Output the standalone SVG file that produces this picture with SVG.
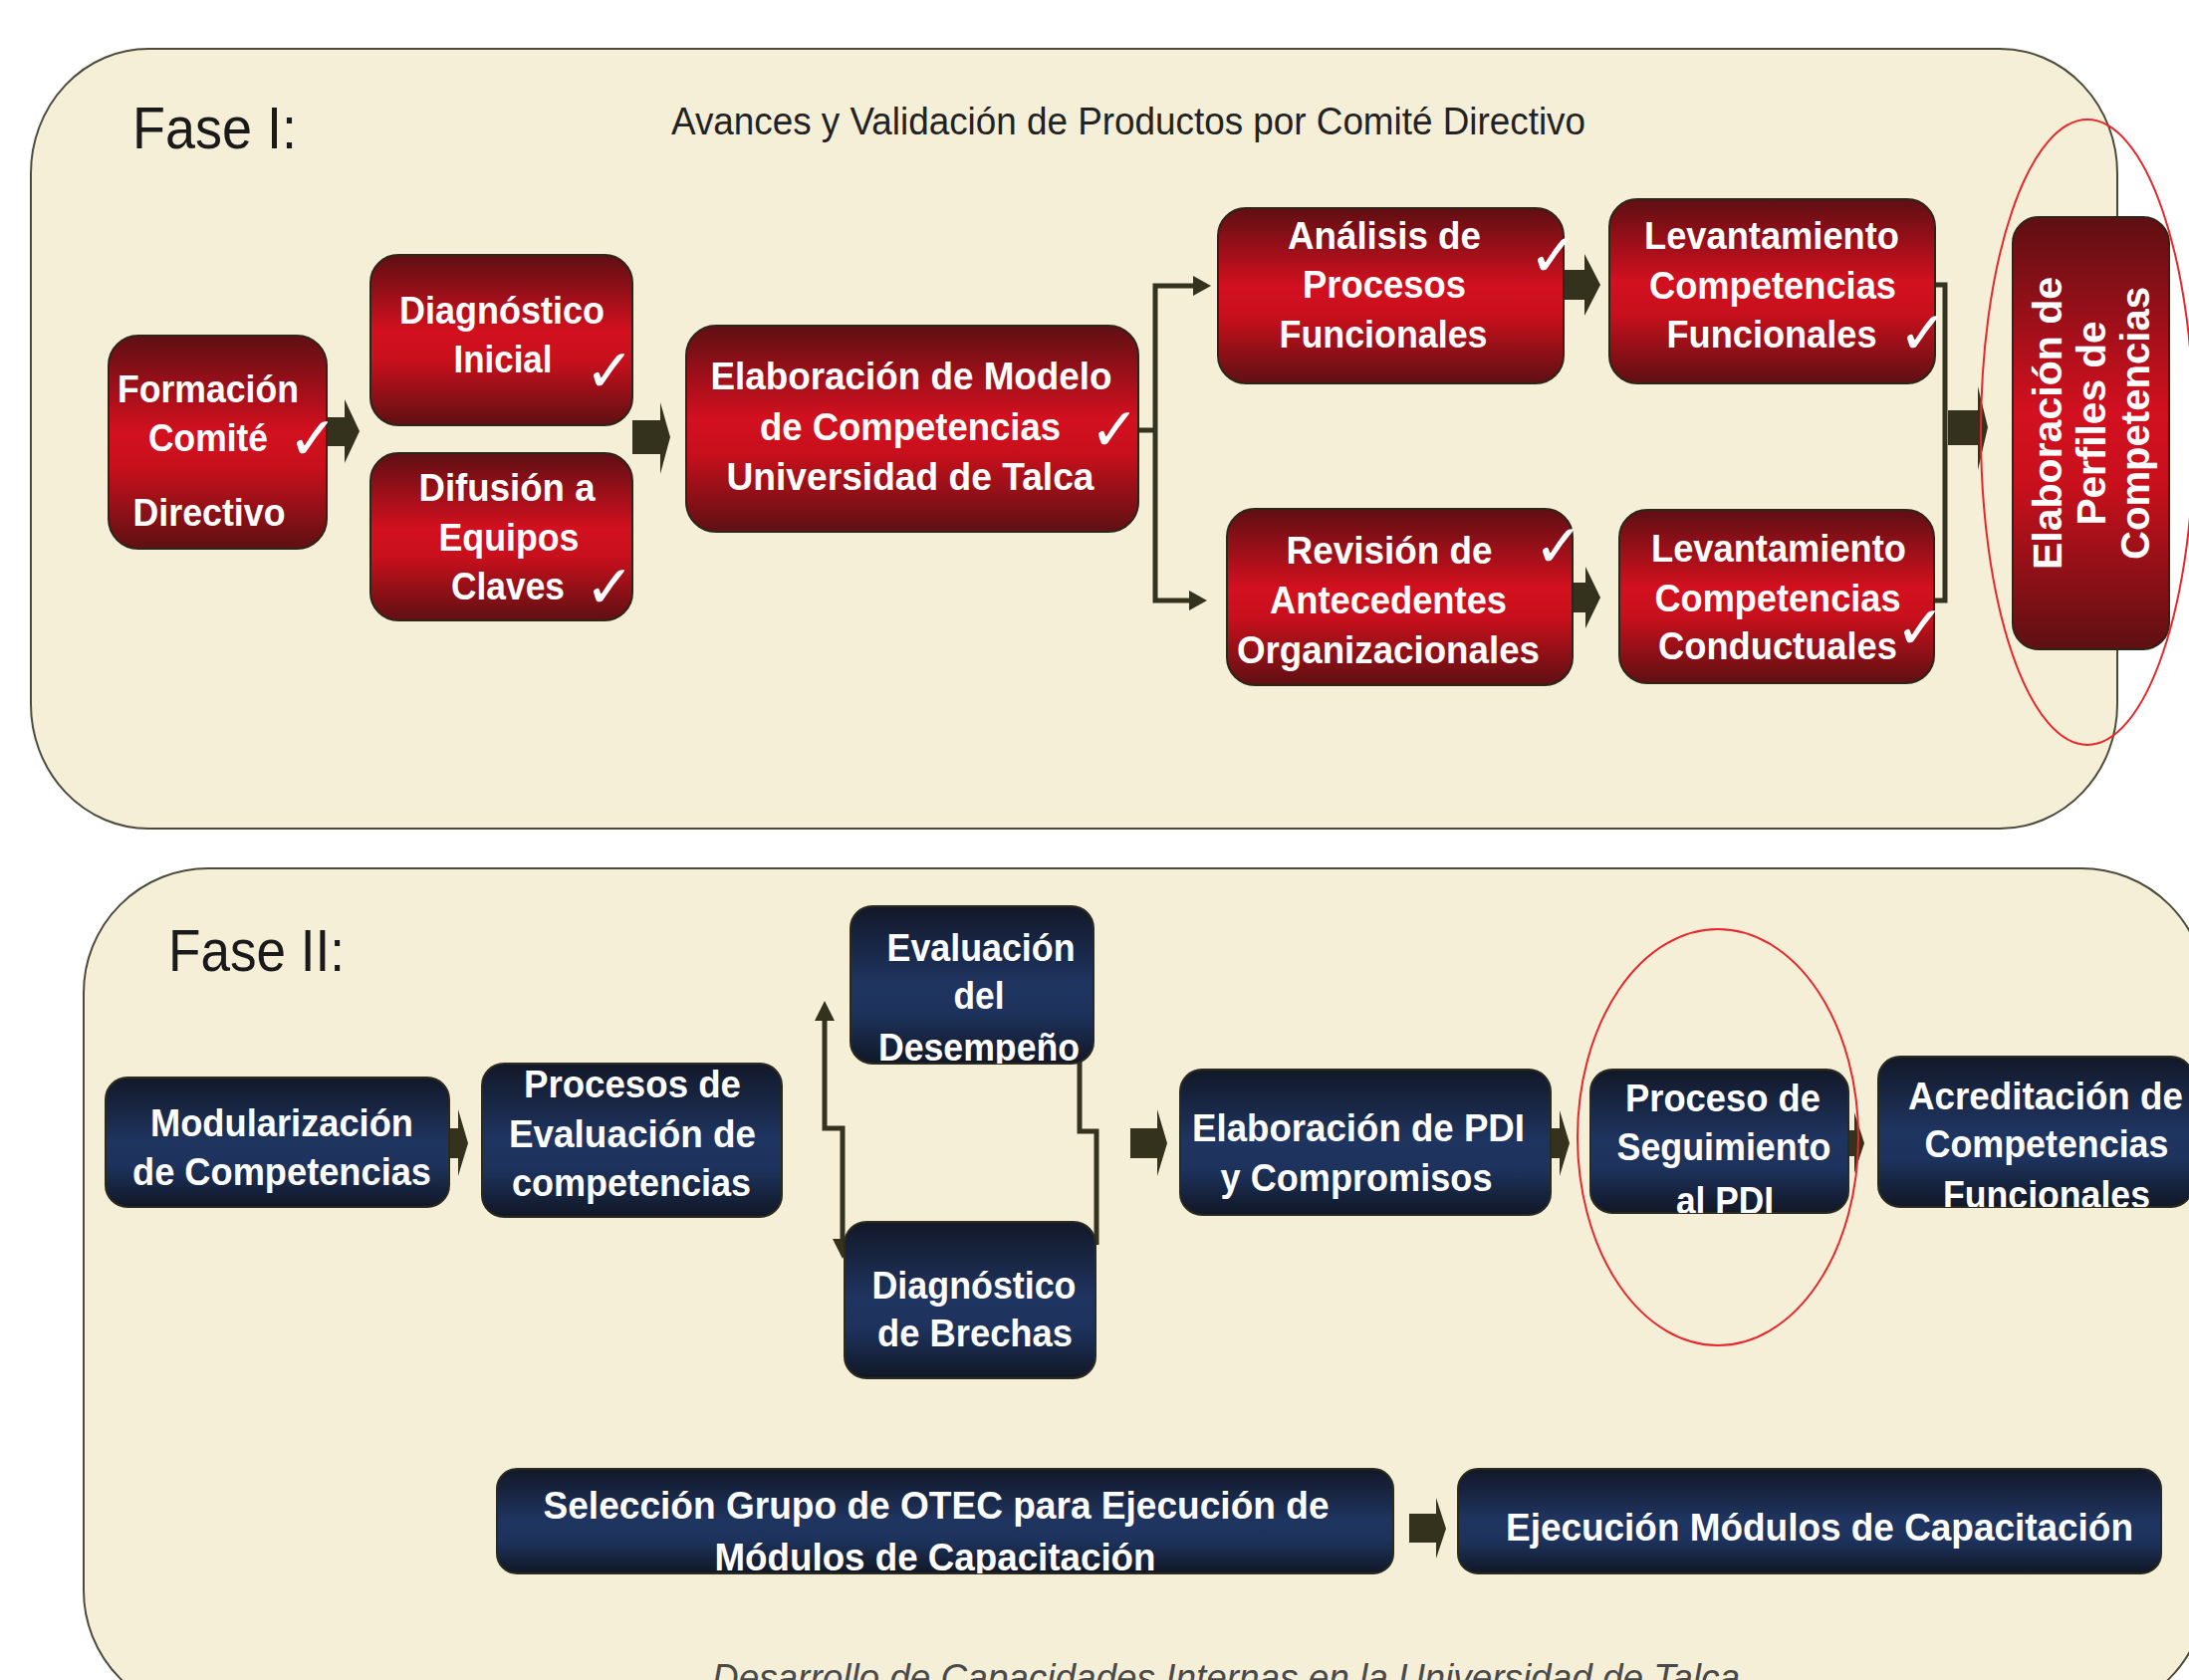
<svg xmlns="http://www.w3.org/2000/svg" width="2198" height="1687" viewBox="0 0 2198 1687">
<defs>
<linearGradient id="gr" x1="0" y1="0" x2="0" y2="1">
<stop offset="0" stop-color="#5e0f13"/>
<stop offset="0.45" stop-color="#d3101f"/>
<stop offset="0.62" stop-color="#c8101c"/>
<stop offset="1" stop-color="#5e1013"/>
</linearGradient>
<linearGradient id="gb" x1="0" y1="0" x2="0" y2="1">
<stop offset="0" stop-color="#121828"/>
<stop offset="0.5" stop-color="#1f3561"/>
<stop offset="0.68" stop-color="#1d335d"/>
<stop offset="1" stop-color="#111726"/>
</linearGradient>
<clipPath id="cEv"><rect x="854" y="910" width="244" height="158" rx="22"/></clipPath>
<clipPath id="cPr"><rect x="1597" y="1074" width="259" height="144" rx="22"/></clipPath>
<clipPath id="cAc"><rect x="1886" y="1061" width="316" height="151" rx="22"/></clipPath>
<clipPath id="cSe"><rect x="499" y="1475" width="900" height="105" rx="20"/></clipPath>
</defs>
<style>
.panel{fill:#f6efd8;stroke:#4b4b3c;stroke-width:2}
.nr{fill:url(#gr);stroke:#2e2418;stroke-width:2}
.nb{fill:url(#gb);stroke:#2a2a1e;stroke-width:2}
.t{font-family:"Liberation Sans Narrow","Liberation Sans",Arial,sans-serif;font-weight:bold;font-size:39px;fill:#ffffff;text-anchor:middle}
.tv{font-family:"Liberation Sans",Arial,sans-serif;font-weight:bold;font-size:40px;fill:#ffffff;text-anchor:middle}
.ck{font-family:"DejaVu Sans",sans-serif;font-size:60px;fill:#ffffff}
.fase{font-family:"Liberation Sans Narrow","Liberation Sans",Arial,sans-serif;font-size:60px;fill:#1a1a1a}
.sub{font-family:"Liberation Sans Narrow","Liberation Sans",Arial,sans-serif;font-size:38px;fill:#222222}
.foot{font-family:"Liberation Sans Narrow","Liberation Sans",Arial,sans-serif;font-style:italic;font-size:38px;fill:#4a4a4a}
.ln{fill:none;stroke:#33331f;stroke-width:5}
.ar{fill:#34321c}
.ring{fill:none;stroke:#e8262b;stroke-width:2}
</style>

<g id="panels">
<rect class="panel" x="31" y="49" width="2095" height="783" rx="118" ry="125"/>
<rect class="panel" x="84" y="872" width="2131" height="850" rx="125" ry="125"/>
</g>

<g id="titles">
<text class="fase" x="133" y="149" textLength="165" lengthAdjust="spacingAndGlyphs">Fase I:</text>
<text class="sub" x="674" y="135" textLength="918" lengthAdjust="spacingAndGlyphs">Avances  y Validación  de Productos por Comité Directivo</text>
<text class="fase" x="169" y="975" textLength="177" lengthAdjust="spacingAndGlyphs">Fase II:</text>
<text class="foot" x="715" y="1698" textLength="1032" lengthAdjust="spacingAndGlyphs">Desarrollo de Capacidades Internas en la Universidad de Talca</text>
</g>

<g id="connectors">
<polygon class="ar" points="328,419 346,419 346,401 361,433 346,465 346,448 328,448"/>
<polygon class="ar" points="635,422 663,422 663,404 673,439 663,476 663,456 635,456"/>
<polyline class="ln" points="1143,432 1160,432"/>
<polyline class="ln" points="1200,287 1160,287 1160,603 1196,603"/>
<polygon class="ar" points="1216,287 1198,277 1198,297"/>
<polygon class="ar" points="1212,603 1194,593 1194,613"/>
<polygon class="ar" points="1570,271 1591,271 1591,255 1607,286 1591,317 1591,301 1570,301"/>
<polygon class="ar" points="1579,585 1592,585 1592,569 1607,600 1592,631 1592,615 1579,615"/>
<polyline class="ln" points="1943,286 1953,286 1953,603 1942,603"/>
<polygon class="ar" points="1956,412 1986,412 1986,388 1996,429 1986,472 1986,447 1956,447"/>
<polygon class="ar" points="451,1133 460,1133 460,1114 470,1148 460,1181 460,1163 451,1163"/>
<polyline class="ln" points="828,1022 828,1133 846,1133 846,1247"/>
<polygon class="ar" points="828,1005 818,1025 838,1025"/>
<polygon class="ar" points="846,1264 836,1244 856,1244"/>
<polyline class="ln" points="1084,1005 1084,1136 1101,1136 1101,1250"/>
<polygon class="ar" points="1135,1133 1162,1133 1162,1114 1172,1148 1162,1181 1162,1163 1135,1163"/>
<polygon class="ar" points="1557,1133 1566,1133 1566,1115 1576,1148 1566,1181 1566,1163 1557,1163"/>
<polygon class="ar" points="1856,1135 1862,1135 1862,1117 1872,1148 1862,1178 1862,1161 1856,1161"/>
<polygon class="ar" points="1415,1520 1442,1520 1442,1504 1452,1535 1442,1565 1442,1549 1415,1549"/>
</g>

<g id="n-formacion">
<rect class="nr" x="109" y="337" width="219" height="214" rx="30"/>
<text class="t" x="209" y="404" textLength="182" lengthAdjust="spacingAndGlyphs">Formación</text>
<text class="t" x="209" y="453" textLength="120" lengthAdjust="spacingAndGlyphs">Comité</text>
<text class="t" x="210" y="528" textLength="153" lengthAdjust="spacingAndGlyphs">Directivo</text>
<text class="ck" x="289" y="461">✓</text>
</g>

<g id="n-diagnostico-inicial">
<rect class="nr" x="372" y="256" width="263" height="171" rx="28"/>
<text class="t" x="504" y="325" textLength="206" lengthAdjust="spacingAndGlyphs">Diagnóstico</text>
<text class="t" x="505" y="374" textLength="99" lengthAdjust="spacingAndGlyphs">Inicial</text>
<text class="ck" x="587" y="393">✓</text>
</g>

<g id="n-difusion">
<rect class="nr" x="372" y="455" width="263" height="168" rx="28"/>
<text class="t" x="509" y="503" textLength="177" lengthAdjust="spacingAndGlyphs">Difusión a</text>
<text class="t" x="511" y="553" textLength="141" lengthAdjust="spacingAndGlyphs">Equipos</text>
<text class="t" x="510" y="602" textLength="114" lengthAdjust="spacingAndGlyphs">Claves</text>
<text class="ck" x="587" y="610">✓</text>
</g>

<g id="n-modelo">
<rect class="nr" x="689" y="327" width="454" height="207" rx="30"/>
<text class="t" x="915" y="391" textLength="403" lengthAdjust="spacingAndGlyphs">Elaboración  de Modelo</text>
<text class="t" x="914" y="442" textLength="302" lengthAdjust="spacingAndGlyphs">de Competencias</text>
<text class="t" x="914" y="492" textLength="369" lengthAdjust="spacingAndGlyphs">Universidad  de Talca</text>
<text class="ck" x="1094" y="452">✓</text>
</g>

<g id="n-analisis">
<rect class="nr" x="1223" y="209" width="347" height="176" rx="28"/>
<text class="t" x="1390" y="250" textLength="194" lengthAdjust="spacingAndGlyphs">Análisis  de</text>
<text class="t" x="1390" y="299" textLength="164" lengthAdjust="spacingAndGlyphs">Procesos</text>
<text class="t" x="1389" y="349" textLength="209" lengthAdjust="spacingAndGlyphs">Funcionales</text>
<text class="ck" x="1535" y="277">✓</text>
</g>

<g id="n-lev-funcionales">
<rect class="nr" x="1616" y="200" width="327" height="185" rx="28"/>
<text class="t" x="1779" y="250" textLength="256" lengthAdjust="spacingAndGlyphs">Levantamiento</text>
<text class="t" x="1780" y="300" textLength="248" lengthAdjust="spacingAndGlyphs">Competencias</text>
<text class="t" x="1779" y="349" textLength="211" lengthAdjust="spacingAndGlyphs">Funcionales</text>
<text class="ck" x="1906" y="355">✓</text>
</g>

<g id="n-revision">
<rect class="nr" x="1232" y="511" width="347" height="177" rx="28"/>
<text class="t" x="1395" y="566" textLength="207" lengthAdjust="spacingAndGlyphs">Revisión  de</text>
<text class="t" x="1394" y="616" textLength="238" lengthAdjust="spacingAndGlyphs">Antecedentes</text>
<text class="t" x="1394" y="666" textLength="304" lengthAdjust="spacingAndGlyphs">Organizacionales</text>
<text class="ck" x="1540" y="569">✓</text>
</g>

<g id="n-lev-conductuales">
<rect class="nr" x="1626" y="512" width="316" height="174" rx="28"/>
<text class="t" x="1786" y="564" textLength="256" lengthAdjust="spacingAndGlyphs">Levantamiento</text>
<text class="t" x="1785" y="614" textLength="247" lengthAdjust="spacingAndGlyphs">Competencias</text>
<text class="t" x="1785" y="662" textLength="240" lengthAdjust="spacingAndGlyphs">Conductuales</text>
<text class="ck" x="1903" y="651">✓</text>
</g>

<g id="n-perfiles">
<rect class="nr" x="2021" y="218" width="157" height="434" rx="26"/>
<text class="tv" transform="translate(2070,425) rotate(-90)" x="0" y="0" textLength="294" lengthAdjust="spacingAndGlyphs">Elaboración  de</text>
<text class="tv" transform="translate(2114,425) rotate(-90)" x="0" y="0" textLength="205" lengthAdjust="spacingAndGlyphs">Perfiles de</text>
<text class="tv" transform="translate(2158,425) rotate(-90)" x="0" y="0" textLength="274" lengthAdjust="spacingAndGlyphs">Competencias</text>
</g>

<g id="n-modularizacion">
<rect class="nb" x="106" y="1082" width="345" height="130" rx="22"/>
<text class="t" x="283" y="1141" textLength="264" lengthAdjust="spacingAndGlyphs">Modularización</text>
<text class="t" x="283" y="1190" textLength="300" lengthAdjust="spacingAndGlyphs">de Competencias</text>
</g>

<g id="n-procesos-eval">
<rect class="nb" x="484" y="1068" width="301" height="154" rx="22"/>
<text class="t" x="635" y="1102" textLength="218" lengthAdjust="spacingAndGlyphs">Procesos de</text>
<text class="t" x="635" y="1152" textLength="248" lengthAdjust="spacingAndGlyphs">Evaluación  de</text>
<text class="t" x="634" y="1201" textLength="240" lengthAdjust="spacingAndGlyphs">competencias</text>
</g>

<g id="n-evaluacion">
<rect class="nb" x="854" y="910" width="244" height="158" rx="22"/>
<g clip-path="url(#cEv)">
<text class="t" x="985" y="965" textLength="189" lengthAdjust="spacingAndGlyphs">Evaluación</text>
<text class="t" x="983" y="1013" textLength="51" lengthAdjust="spacingAndGlyphs">del</text>
<text class="t" x="983" y="1065" textLength="202" lengthAdjust="spacingAndGlyphs">Desempeño</text>
</g>
</g>

<g id="n-brechas">
<rect class="nb" x="848" y="1227" width="252" height="157" rx="22"/>
<text class="t" x="978" y="1304" textLength="205" lengthAdjust="spacingAndGlyphs">Diagnóstico</text>
<text class="t" x="979" y="1352" textLength="196" lengthAdjust="spacingAndGlyphs">de Brechas</text>
</g>

<g id="n-pdi">
<rect class="nb" x="1185" y="1074" width="372" height="146" rx="22"/>
<text class="t" x="1364" y="1146" textLength="334" lengthAdjust="spacingAndGlyphs">Elaboración  de PDI</text>
<text class="t" x="1362" y="1196" textLength="273" lengthAdjust="spacingAndGlyphs">y Compromisos</text>
</g>

<g id="n-seguimiento">
<rect class="nb" x="1597" y="1074" width="259" height="144" rx="22"/>
<g clip-path="url(#cPr)">
<text class="t" x="1730" y="1116" textLength="196" lengthAdjust="spacingAndGlyphs">Proceso de</text>
<text class="t" x="1731" y="1165" textLength="215" lengthAdjust="spacingAndGlyphs">Seguimiento</text>
<text class="t" x="1732" y="1219" textLength="98" lengthAdjust="spacingAndGlyphs">al PDI</text>
</g>
</g>

<g id="n-acreditacion">
<rect class="nb" x="1886" y="1061" width="316" height="151" rx="22"/>
<g clip-path="url(#cAc)">
<text class="t" x="2054" y="1114" textLength="276" lengthAdjust="spacingAndGlyphs">Acreditación  de</text>
<text class="t" x="2055" y="1162" textLength="245" lengthAdjust="spacingAndGlyphs">Competencias</text>
<text class="t" x="2055" y="1213" textLength="208" lengthAdjust="spacingAndGlyphs">Funcionales</text>
</g>
</g>

<g id="n-seleccion">
<rect class="nb" x="499" y="1475" width="900" height="105" rx="20"/>
<g clip-path="url(#cSe)">
<text class="t" x="940" y="1525" textLength="789" lengthAdjust="spacingAndGlyphs">Selección  Grupo de OTEC para Ejecución  de</text>
<text class="t" x="939" y="1577" textLength="443" lengthAdjust="spacingAndGlyphs">Módulos  de Capacitación</text>
</g>
</g>

<g id="n-ejecucion">
<rect class="nb" x="1464" y="1475" width="706" height="105" rx="20"/>
<text class="t" x="1827" y="1547" textLength="630" lengthAdjust="spacingAndGlyphs">Ejecución  Módulos  de Capacitación</text>
</g>

<g id="highlights">
<ellipse class="ring" cx="2096" cy="434" rx="107" ry="314"/>
<ellipse class="ring" cx="1725" cy="1142" rx="141" ry="209"/>
</g>
</svg>
